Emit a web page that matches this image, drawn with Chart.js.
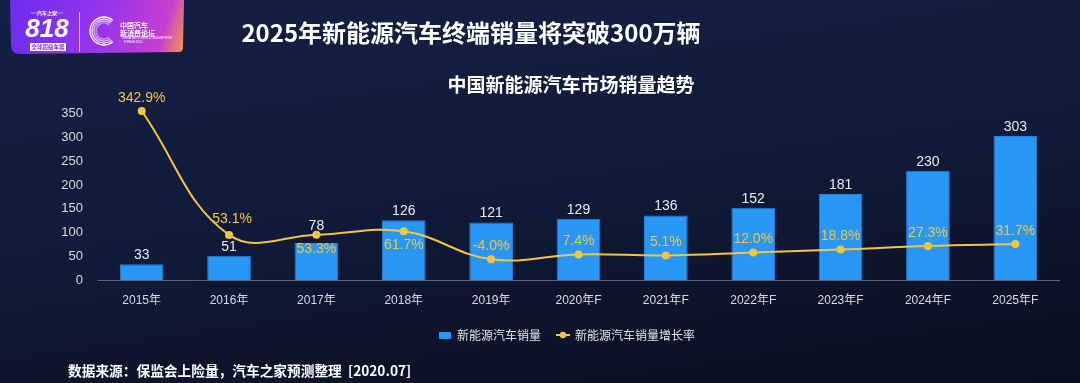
<!DOCTYPE html>
<html>
<head>
<meta charset="utf-8">
<script src="https://cdn.jsdelivr.net/npm/chart.js@4.4.0/dist/chart.umd.min.js"></script>
<style>
  html, body { margin: 0; padding: 0; }
  body {
    width: 1080px; height: 383px; overflow: hidden;
    background: linear-gradient(172deg, #142044 0%, #111b3b 45%, #0c1329 80%, #0a0f1f 100%);
  }
</style>
</head>
<body>
<canvas id="chart" width="1080" height="383"></canvas>
<script>
// data
const categories = ['2015年', '2016年', '2017年', '2018年', '2019年', '2020年F', '2021年F', '2022年F', '2023年F', '2024年F', '2025年F'];
const sales = [33, 51, 78, 126, 121, 129, 136, 152, 181, 230, 303];   // 万辆
const growth = [342.9, 53.1, 53.3, 61.7, -4.0, 7.4, 5.1, 12.0, 18.8, 27.3, 31.7]; // %
const seriesNames = ['新能源汽车销量', '新能源汽车销量增长率'];
const title = '2025年新能源汽车终端销量将突破300万辆';
const subtitle = '中国新能源汽车市场销量趋势';
const source = '数据来源：保监会上险量，汽车之家预测整理  [2020.07]';

const BLUE = '#2997f5';
const YELLOW = '#f3c641';
const CJK = '"Noto Sans CJK SC", "Liberation Sans", sans-serif';
const SANS = '"Liberation Sans", "Noto Sans CJK SC", sans-serif';

// little legend markers
function makeBox() {
  const c = document.createElement('canvas');
  c.width = 12; c.height = 7;
  const g = c.getContext('2d');
  g.fillStyle = BLUE;
  g.fillRect(0, 0, 12, 7);
  return c;
}
function makeLineDot() {
  const c = document.createElement('canvas');
  c.width = 14; c.height = 8;
  const g = c.getContext('2d');
  g.strokeStyle = YELLOW; g.lineWidth = 2;
  g.beginPath(); g.moveTo(0, 4); g.lineTo(14, 4); g.stroke();
  g.fillStyle = YELLOW;
  g.beginPath(); g.arc(7, 4, 3.2, 0, Math.PI * 2); g.fill();
  return c;
}
const legendMarks = [makeBox(), makeLineDot()];

// legend in the original sits a bit right of centre
const legendShift = {
  id: 'legendShift',
  afterLayout(chart) {
    if (chart.legend) chart.legend.left += 75;
  }
};

// logo + headings + source line
const decorations = {
  id: 'decorations',
  beforeDraw(chart) {
    const ctx = chart.ctx;
    ctx.save();
    // purple badge
    const grad = ctx.createLinearGradient(10, 0, 185, 55);
    grad.addColorStop(0, '#6a2df0');
    grad.addColorStop(0.55, '#9b36ea');
    grad.addColorStop(0.85, '#c73fd0');
    grad.addColorStop(1, '#f3a43a');
    ctx.fillStyle = grad;
    ctx.beginPath();
    ctx.moveTo(10, 0);
    ctx.lineTo(184, 0);
    ctx.lineTo(183, 48);
    ctx.quadraticCurveTo(183, 52, 178, 52);
    ctx.lineTo(20, 54);
    ctx.quadraticCurveTo(11, 54, 11, 45);
    ctx.closePath();
    ctx.fill();

    ctx.fillStyle = '#ffffff';
    ctx.textAlign = 'center';
    ctx.textBaseline = 'middle';
    ctx.font = 'bold 5px ' + CJK;
    ctx.fillText('汽车之家', 47, 13);
    ctx.strokeStyle = 'rgba(255,255,255,0.8)';
    ctx.lineWidth = 0.6;
    ctx.beginPath(); ctx.moveTo(31, 13); ctx.lineTo(38, 13); ctx.moveTo(56, 13); ctx.lineTo(63, 13); ctx.stroke();
    ctx.font = 'italic bold 26px ' + SANS;
    ctx.fillText('818', 47, 30);
    ctx.fillStyle = '#ffffff';
    ctx.fillRect(30, 43, 36, 8);
    ctx.fillStyle = '#8a34e8';
    ctx.font = 'bold 5.5px ' + CJK;
    ctx.fillText('全球超级车展', 48, 47);

    ctx.strokeStyle = 'rgba(255,255,255,0.7)';
    ctx.lineWidth = 1;
    ctx.beginPath(); ctx.moveTo(79.5, 12); ctx.lineTo(79.5, 52); ctx.stroke();

    // C ring logo
    ctx.lineWidth = 1.4;
    for (let r = 8; r <= 15; r += 2) {
      ctx.strokeStyle = 'rgba(255,255,255,' + (0.45 + (r - 8) * 0.08) + ')';
      ctx.beginPath();
      ctx.arc(104, 31, r, Math.PI * 0.28, Math.PI * 1.72, false);
      ctx.stroke();
    }
    ctx.fillStyle = '#ffffff';
    ctx.textAlign = 'left';
    ctx.font = 'bold 7px ' + CJK;
    ctx.fillText('中国汽车', 120, 25);
    ctx.fillText('新消费论坛', 120, 33);
    ctx.font = '3px ' + SANS;
    ctx.fillText('CHINA AUTO NEW CONSUMPTION', 122, 38.5);
    ctx.fillText('FORUM 2020', 124, 42);

    // headings
    ctx.textAlign = 'center';
    ctx.fillStyle = '#ffffff';
    ctx.font = 'bold 24px ' + CJK;
    ctx.fillText(title, 471, 33);
    ctx.font = 'bold 19px ' + CJK;
    ctx.fillText(subtitle, 571, 85);

    // source
    ctx.textAlign = 'left';
    ctx.font = 'bold 13.7px ' + CJK;
    ctx.fillText(source, 68, 371);
    ctx.restore();
  }
};

// value labels for bars and the growth line
const valueLabels = {
  id: 'valueLabels',
  afterDatasetsDraw(chart) {
    const ctx = chart.ctx;
    const bars = chart.getDatasetMeta(0).data;
    const pts = chart.getDatasetMeta(1).data;
    ctx.save();
    ctx.textAlign = 'center';
    ctx.textBaseline = 'middle';
    ctx.font = '14px ' + SANS;
    bars.forEach((bar, i) => {
      let y = bar.y - 9;
      const p = pts[i];
      // push label above the dot when the dot sits right on top of the bar
      if (p.y > y - 4 && p.y < bar.y) y = p.y - 9;
      ctx.fillStyle = '#e9ebf1';
      ctx.fillText(String(sales[i]), bar.x, y);
    });
    ctx.fillStyle = YELLOW;
    pts.forEach((p, i) => {
      const barTop = bars[i].y;
      const below = p.y > barTop - 15 && p.y < barTop + 20;
      const y = below ? p.y + 14 : p.y - (i === 1 ? 16 : 13);
      ctx.fillText(growth[i].toFixed(1) + '%', p.x + (i === 1 ? 3 : 0), y);
    });
    ctx.restore();
  }
};

new Chart(document.getElementById('chart'), {
  data: {
    labels: categories,
    datasets: [
      {
        type: 'bar',
        label: seriesNames[0],
        data: sales,
        backgroundColor: BLUE,
        borderColor: '#2182dc',
        borderWidth: 1,
        barPercentage: 0.5,
        categoryPercentage: 1,
        yAxisID: 'y',
        order: 1
      },
      {
        type: 'line',
        label: seriesNames[1],
        data: growth,
        borderColor: YELLOW,
        backgroundColor: YELLOW,
        borderWidth: 2,
        pointRadius: 4,
        pointBackgroundColor: YELLOW,
        pointBorderWidth: 0,
        tension: 0.4,
        clip: false,
        yAxisID: 'y1',
        order: 0
      }
    ]
  },
  options: {
    responsive: false,
    animation: false,
    layout: { padding: { top: 90, right: 21, bottom: 32, left: 0 } },
    plugins: {
      legend: {
        position: 'bottom',
        labels: {
          color: '#dfe3ea',
          font: { family: CJK, size: 12 },
          usePointStyle: true,
          pointStyleWidth: 12,
          boxHeight: 12,
          padding: 16,
          sort: (a, b) => a.datasetIndex - b.datasetIndex,
          generateLabels(chart) {
            const items = Chart.defaults.plugins.legend.labels.generateLabels(chart);
            items.forEach(it => { it.pointStyle = legendMarks[it.datasetIndex]; it.fontColor = '#dfe3ea'; });
            return items;
          }
        }
      },
      tooltip: { enabled: false }
    },
    scales: {
      x: {
        grid: { display: false, drawTicks: false },
        border: { display: true, color: '#5b6479', width: 1 },
        ticks: { color: '#d7dbe3', font: { family: SANS, size: 12 }, padding: 13, maxRotation: 0 },
        afterFit(scale) { scale.height = 33; }
      },
      y: {
        min: 0,
        max: 400,
        grid: { display: false, drawTicks: false },
        border: { display: false },
        ticks: {
          stepSize: 50,
          color: '#d7dbe3',
          font: { family: SANS, size: 13 },
          padding: 15,
          callback: v => (v > 350 ? '' : v)
        },
        afterFit(scale) { scale.width = 98; }
      },
      y1: {
        display: false,
        min: -52.4,
        max: 392
      }
    }
  },
  plugins: [legendShift, decorations, valueLabels]
});
</script>
</body>
</html>
